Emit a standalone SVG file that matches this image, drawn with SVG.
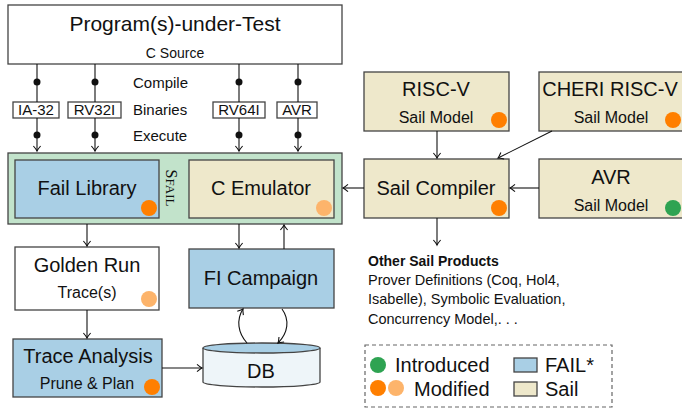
<svg xmlns="http://www.w3.org/2000/svg" width="682" height="408" viewBox="0 0 682 408">
<style>
text{font-family:"Liberation Sans",Arial,sans-serif;fill:#111}
.box{stroke:#444;stroke-width:1.3}
.white{fill:#fff}
.fail{fill:#a9cfe5}
.sail{fill:#eee8cb}
.big{font-size:20px;text-anchor:middle}
.mid{font-size:16px;text-anchor:middle}
.lbl{font-size:15px}
.c{stroke:#111;stroke-width:1.1;fill:none}
.dot{fill:#111}
.or{fill:#ff7f00}
.lo{fill:#fdb46b}
.gr{fill:#2ea352}
</style>
<defs>
<marker id="ah" markerWidth="10" markerHeight="10" viewBox="-6 -5 7 10" refX="0" refY="0" orient="auto" markerUnits="userSpaceOnUse">
<path d="M-5,-3.6 Q-1.5,-0.6 0,0 Q-1.5,0.6 -5,3.6" fill="none" stroke="#111" stroke-width="1.1"/>
</marker>
</defs>

<g id="program">
<rect class="box white" x="8" y="5" width="334" height="59"/>
<text x="175" y="31" style="font-size:21px;text-anchor:middle">Program(s)-under-Test</text>
<text x="175" y="58" style="font-size:14px;text-anchor:middle">C Source</text>
</g>

<g id="binaries">
<rect class="box white" x="13" y="102" width="46" height="16"/>
<text x="36" y="115" class="lbl" text-anchor="middle">IA-32</text>
<rect class="box white" x="68" y="102" width="53" height="16"/>
<text x="94.5" y="115" class="lbl" text-anchor="middle">RV32I</text>
<rect class="box white" x="213" y="102" width="52" height="16"/>
<text x="239" y="115" class="lbl" text-anchor="middle">RV64I</text>
<rect class="box white" x="277" y="102" width="40" height="16"/>
<text x="297" y="115" class="lbl" text-anchor="middle">AVR</text>
<text x="133" y="88" class="lbl">Compile</text>
<text x="133" y="115" class="lbl">Binaries</text>
<text x="133" y="141" class="lbl">Execute</text>
</g>

<g id="sfail">
<rect class="box" x="8" y="153" width="334" height="71" fill="#c2e3cb"/>
<text transform="translate(166,188) rotate(90)" style="font-family:'Liberation Serif',serif;font-size:16px;text-anchor:middle">S<tspan style="font-size:13px">FAIL</tspan></text>
</g>

<g id="faillib">
<rect class="box fail" x="15" y="160" width="144" height="58"/>
<text x="87" y="195" class="big">Fail Library</text>
<circle class="or" cx="149" cy="208" r="8"/>
</g>

<g id="cemu">
<rect class="box sail" x="189" y="160" width="145" height="58"/>
<text x="261" y="195" class="big">C Emulator</text>
<circle class="lo" cx="324" cy="208" r="8"/>
</g>

<g id="golden">
<rect class="box white" x="15" y="247" width="144" height="63"/>
<text x="87" y="272" class="big">Golden Run</text>
<text x="87" y="298" class="mid">Trace(s)</text>
<circle class="lo" cx="149" cy="299" r="8"/>
</g>

<g id="ficampaign">
<rect class="box fail" x="189" y="249" width="145" height="59"/>
<text x="261" y="285" class="big">FI Campaign</text>
</g>

<g id="trace">
<rect class="box fail" x="13" y="339" width="149" height="58"/>
<text x="88" y="363" class="big">Trace Analysis</text>
<text x="87" y="389" class="mid">Prune &amp; Plan</text>
<circle class="or" cx="152" cy="387" r="8"/>
</g>

<g id="db">
<path class="box" d="M203,348 L203,382 A58.5,5 0 0 0 320,382 L320,348" fill="#eef5f9"/>
<ellipse class="box" cx="261.5" cy="348" rx="58.5" ry="5" fill="#a9cfe5"/>
<text x="261" y="378" class="big">DB</text>
</g>

<g id="riscv">
<rect class="box sail" x="364" y="72" width="145" height="59"/>
<text x="436" y="96" class="big">RISC-V</text>
<text x="436" y="123" class="mid">Sail Model</text>
<circle class="or" cx="499" cy="120" r="8"/>
</g>

<g id="cheri">
<rect class="box sail" x="539" y="72" width="146" height="59"/>
<text x="610" y="96" class="big">CHERI RISC-V</text>
<text x="611" y="123" class="mid">Sail Model</text>
<circle class="or" cx="673" cy="120" r="8"/>
</g>

<g id="sailcompiler">
<rect class="box sail" x="364" y="159" width="145" height="59"/>
<text x="436" y="195" class="big">Sail Compiler</text>
<circle class="or" cx="499" cy="208" r="8"/>
</g>

<g id="avr">
<rect class="box sail" x="539" y="159" width="146" height="59"/>
<text x="611" y="184" class="big">AVR</text>
<text x="611" y="211" class="mid">Sail Model</text>
<circle class="gr" cx="673" cy="208" r="8"/>
</g>

<g id="other">
<text x="368" y="266" style="font-size:14px;font-weight:bold">Other Sail Products</text>
<text x="368" y="285" style="font-size:14.5px">Prover Definitions (Coq, Hol4,</text>
<text x="368" y="304" style="font-size:14.5px">Isabelle), Symbolic Evaluation,</text>
<text x="368" y="324" style="font-size:14.5px">Concurrency Model,. . .</text>
</g>

<g id="legend">
<rect x="365" y="345" width="247" height="62" fill="none" stroke="#666" stroke-width="1.2" stroke-dasharray="4,3"/>
<circle class="gr" cx="378" cy="365" r="8"/>
<text x="395" y="372" style="font-size:20px">Introduced</text>
<circle class="or" cx="378" cy="388" r="8"/>
<circle class="lo" cx="396" cy="388" r="8"/>
<text x="414" y="396" style="font-size:20px">Modified</text>
<rect class="box fail" x="514" y="358" width="23" height="14"/>
<text x="545" y="372" style="font-size:20px">FAIL*</text>
<rect class="box sail" x="514" y="382" width="23" height="14"/>
<text x="545" y="396" style="font-size:20px">Sail</text>
</g>

<g id="connectors">
<path class="c" d="M37,64 V102 M95,64 V102 M239,64 V102 M298,64 V102"/>
<path class="c" d="M37,118 V151" marker-end="url(#ah)"/>
<path class="c" d="M95,118 V151" marker-end="url(#ah)"/>
<path class="c" d="M239,118 V151" marker-end="url(#ah)"/>
<path class="c" d="M298,118 V151" marker-end="url(#ah)"/>
<circle class="dot" cx="37" cy="82" r="3.5"/>
<circle class="dot" cx="95" cy="82" r="3.5"/>
<circle class="dot" cx="239" cy="82" r="3.5"/>
<circle class="dot" cx="298" cy="82" r="3.5"/>
<circle class="dot" cx="37" cy="135" r="3.5"/>
<circle class="dot" cx="95" cy="135" r="3.5"/>
<circle class="dot" cx="239" cy="135" r="3.5"/>
<circle class="dot" cx="298" cy="135" r="3.5"/>
<path class="c" d="M87,224 V246" marker-end="url(#ah)"/>
<path class="c" d="M239,224 V248" marker-end="url(#ah)"/>
<path class="c" d="M284,249 V225" marker-end="url(#ah)"/>
<path class="c" d="M87,310 V338" marker-end="url(#ah)"/>
<path class="c" d="M162,368 H202" marker-end="url(#ah)"/>
<path class="c" d="M247,343 C238,333 236,320 243,309" marker-end="url(#ah)"/>
<path class="c" d="M282,309 C290,320 288,333 278,343" marker-end="url(#ah)"/>
<path class="c" d="M437,131 V158" marker-end="url(#ah)"/>
<path class="c" d="M552,131 L498,158" marker-end="url(#ah)"/>
<path class="c" d="M539,188 H510" marker-end="url(#ah)"/>
<path class="c" d="M364,188 H343" marker-end="url(#ah)"/>
<path class="c" d="M437,218 V245" marker-end="url(#ah)"/>
</g>
</svg>
